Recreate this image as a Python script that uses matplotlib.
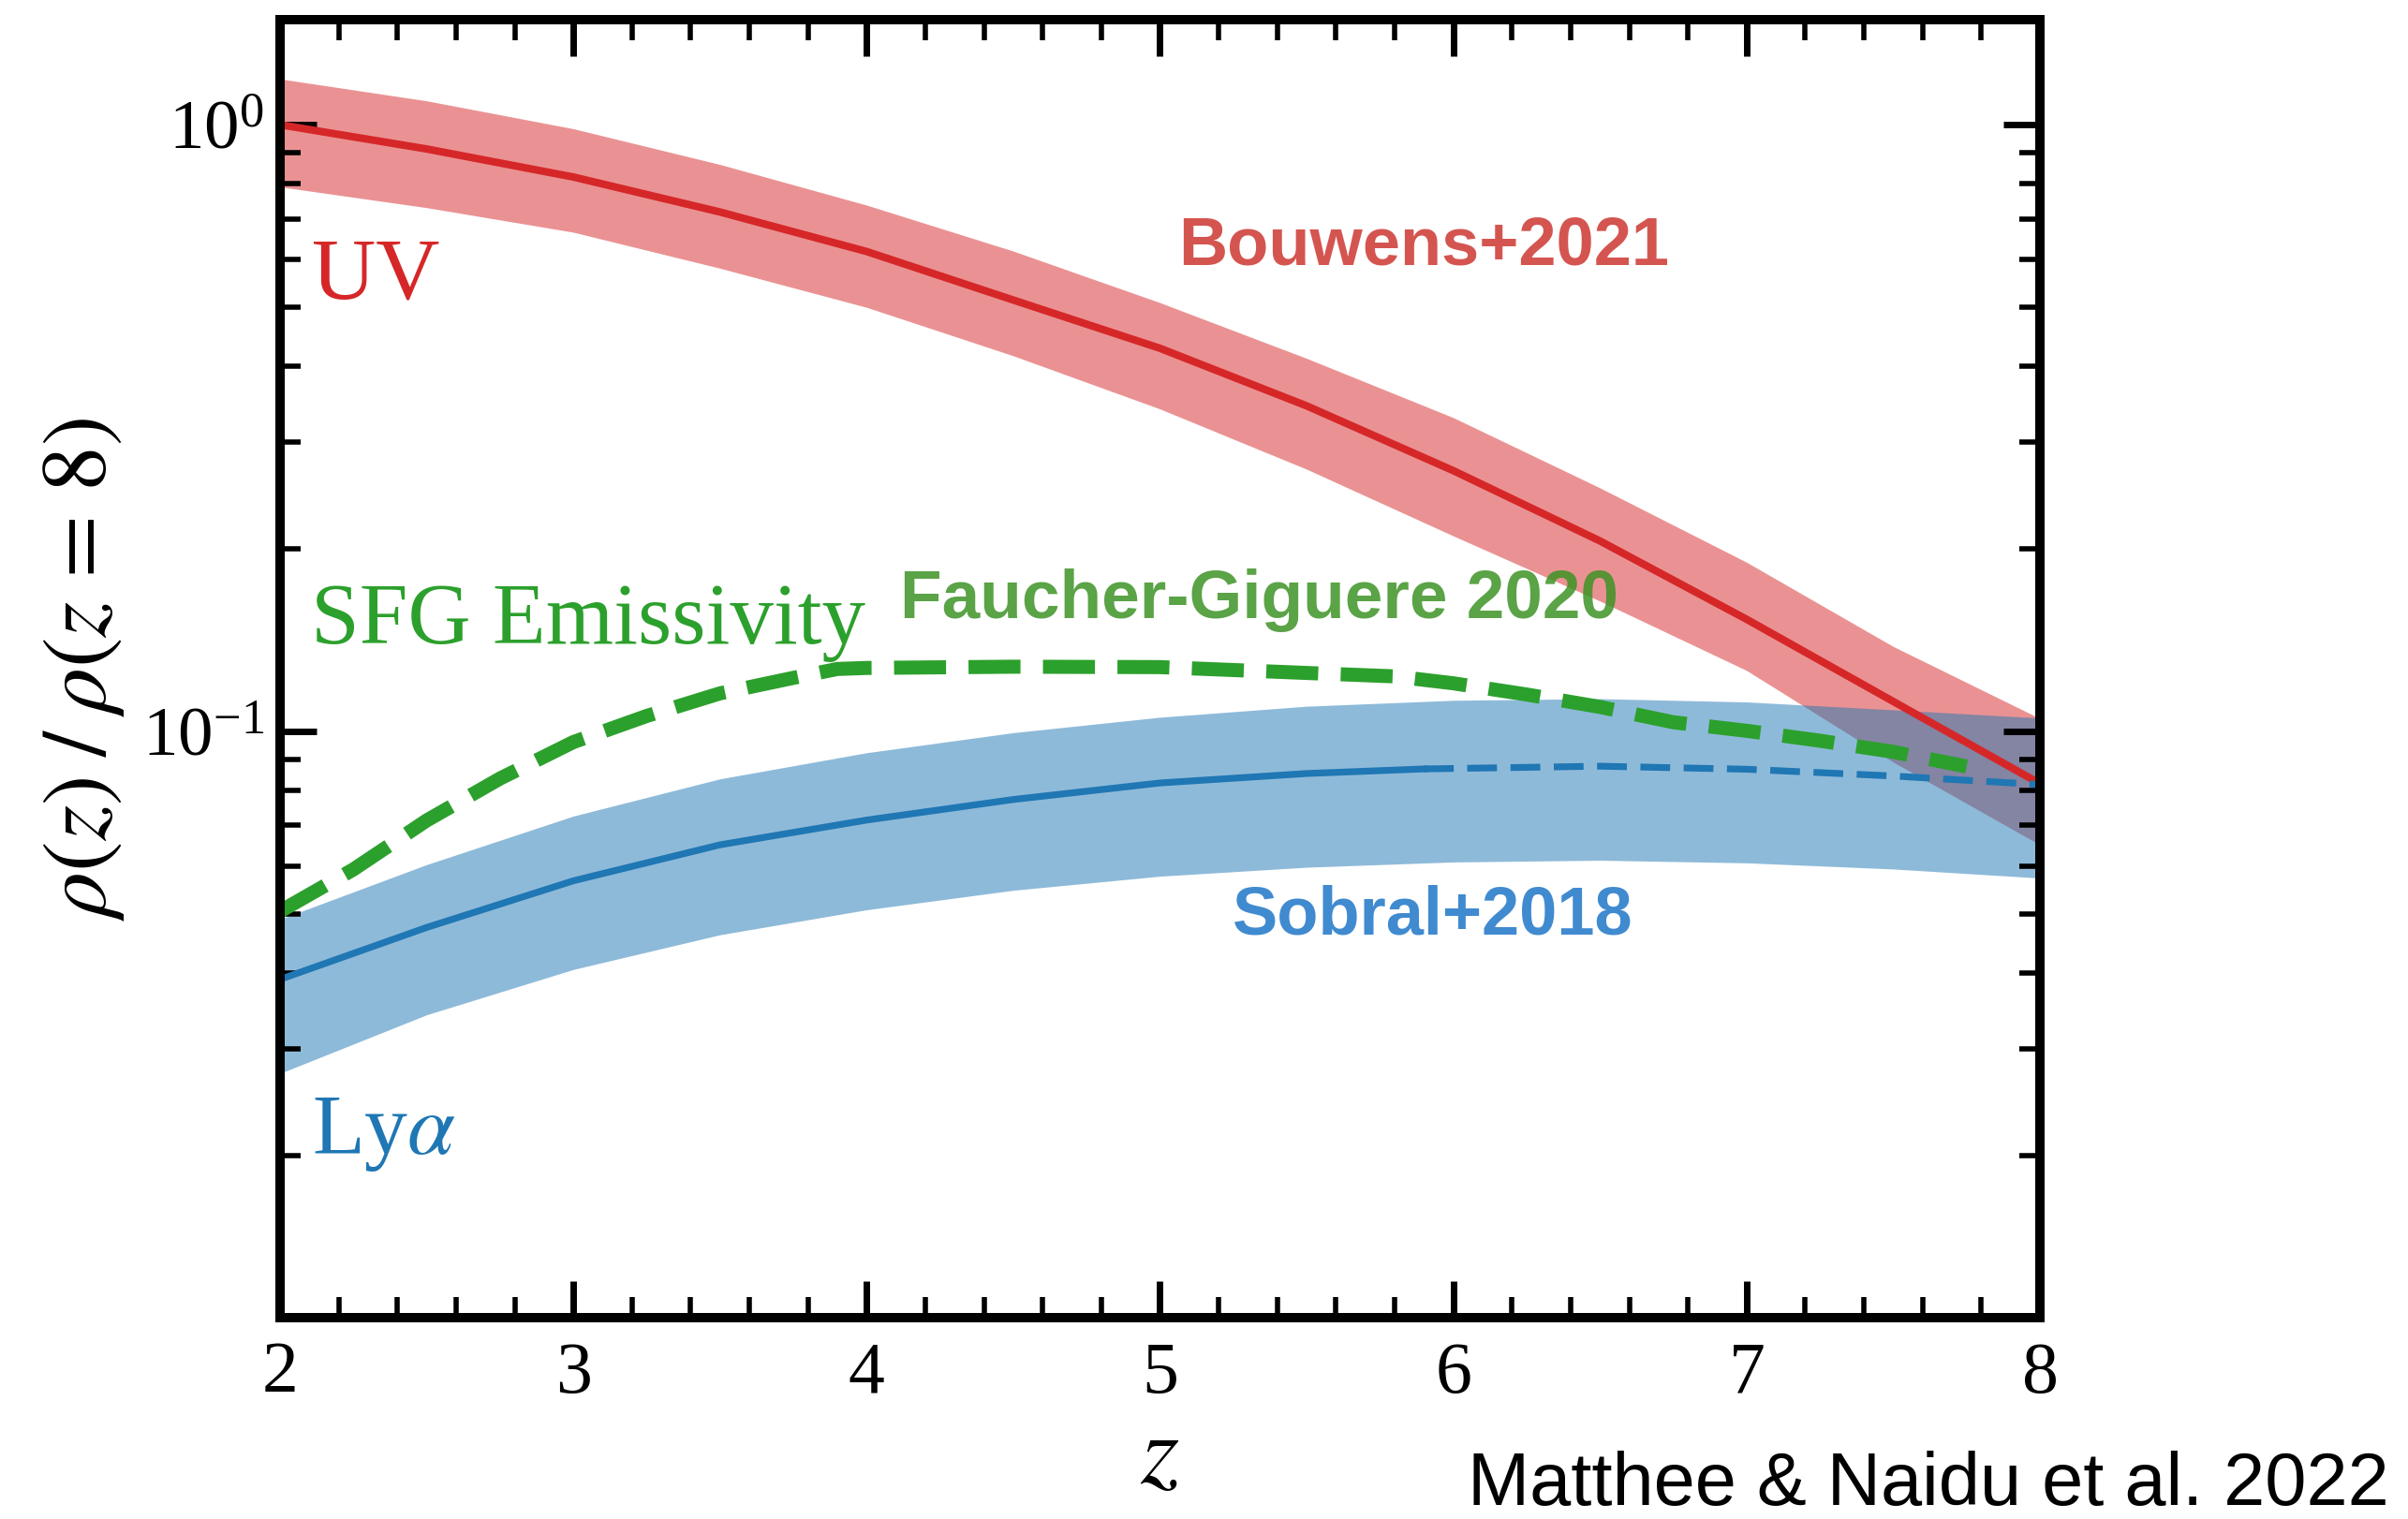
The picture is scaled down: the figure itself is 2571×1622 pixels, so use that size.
import numpy as np
import matplotlib
matplotlib.use("Agg")
import matplotlib.pyplot as plt
from matplotlib.ticker import LogLocator, NullFormatter, MultipleLocator

# UV luminosity density, Bouwens+2021 (normalised at z=8)
z_uv = [2.0, 2.5, 3.0, 3.5, 4.0, 4.5, 5.0, 5.5, 6.0, 6.5, 7.0, 7.5, 8.0]
uv_mid = [1.0, 0.912, 0.82, 0.718, 0.618, 0.514, 0.428, 0.344, 0.269, 0.206, 0.153, 0.112, 0.082]
uv_hi = [1.19, 1.095, 0.985, 0.86, 0.737, 0.619, 0.509, 0.412, 0.329, 0.252, 0.190, 0.138, 0.105]
uv_lo = [0.79, 0.73, 0.665, 0.58, 0.50, 0.416, 0.340, 0.2705, 0.21, 0.164, 0.126, 0.089, 0.065]

# Lya luminosity density, Sobral+2018
z_lya = [2.0, 2.5, 3.0, 3.5, 4.0, 4.5, 5.0, 5.5, 6.0, 6.5, 7.0, 7.5, 8.0]
lya_hi = [0.049, 0.0603, 0.0725, 0.0835, 0.0922, 0.0995, 0.1055, 0.110, 0.1125, 0.1132, 0.1118, 0.1085, 0.1052]
lya_lo = [0.0273, 0.0341, 0.0405, 0.0462, 0.0508, 0.0547, 0.0577, 0.0597, 0.0609, 0.0613, 0.0607, 0.0593, 0.0573]
z_lya_obs = [2.0, 2.5, 3.0, 3.5, 4.0, 4.5, 5.0, 5.5, 5.9]
lya_obs = [0.039, 0.0475, 0.0567, 0.0650, 0.0714, 0.0772, 0.0822, 0.0852, 0.0867]
z_lya_ext = [5.9, 6.5, 7.0, 7.5, 8.0]
lya_ext = [0.0867, 0.0876, 0.0866, 0.0844, 0.0817]

# SFG ionising emissivity, Faucher-Giguere 2020
z_sfg = [2.0, 2.25, 2.5, 2.75, 3.0, 3.25, 3.5, 3.75, 3.9, 4.0, 4.5, 5.0,
         5.5, 5.8, 6.0, 6.25, 6.5, 6.75, 7.0, 7.25, 7.5, 7.75]
sfg = [0.0505, 0.0592, 0.0713, 0.0836, 0.096, 0.106, 0.1155, 0.1225, 0.1267, 0.1272, 0.1278, 0.1276,
       0.1248, 0.1232, 0.120, 0.115, 0.1097, 0.1035, 0.1002, 0.0965, 0.0925, 0.0875]


def main():
    plt.rcParams['font.family'] = ['Liberation Serif', 'DejaVu Serif']
    plt.rcParams['mathtext.fontset'] = 'stix'

    fig = plt.figure(figsize=(2571 / 200, 1622 / 200), dpi=200)
    ax = fig.add_axes([299 / 2571, 1 - 1407 / 1622, (2178 - 299) / 2571, (1407 - 21) / 1622])

    ax.fill_between(z_uv, uv_lo, uv_hi, color='tab:red', alpha=0.5, lw=0, zorder=1)
    ax.fill_between(z_lya, lya_lo, lya_hi, color='tab:blue', alpha=0.5, lw=0, zorder=1.1)

    ax.plot(z_sfg, sfg, color='tab:green', lw=5.4, ls='--', zorder=2)
    ax.plot(z_uv, uv_mid, color='tab:red', lw=2.9, zorder=2.1)
    ax.plot(z_lya_obs, lya_obs, color='tab:blue', lw=2.6, zorder=2.2)
    ax.plot(z_lya_ext, lya_ext, color='tab:blue', lw=2.6, dashes=(4.4, 2.0), zorder=2.2)

    ax.set_yscale('log')
    ax.set_xlim(2, 8)
    ax.set_ylim(0.0108, 1.49)

    ax.xaxis.set_major_locator(MultipleLocator(1))
    ax.xaxis.set_minor_locator(MultipleLocator(0.2))
    ax.yaxis.set_minor_locator(LogLocator(base=10, subs=np.arange(2, 10)))
    ax.yaxis.set_minor_formatter(NullFormatter())

    ax.tick_params(which='both', direction='in', top=True, right=True)
    ax.tick_params(which='major', length=14, width=2.5)
    ax.tick_params(which='minor', length=8, width=2)
    ax.tick_params(axis='x', which='major', labelsize=28, pad=9)
    ax.tick_params(axis='y', which='major', labelsize=27, pad=6)
    for sp in ax.spines.values():
        sp.set_linewidth(3.6)

    ax.set_xlabel(r'$z$', fontsize=38, labelpad=2)
    ax.set_ylabel(r'$\rho(z)\;/\;\rho(z\,=\,8)$', fontsize=35, labelpad=6)

    # labels inside the panel
    ax.text(2.11, 0.518, 'UV', color='tab:red', fontsize=34)
    ax.text(2.105, 0.1396, 'SFG Emissivity', color='tab:green', fontsize=33.5)
    ax.text(2.11, 0.0201, r'Ly$\alpha$', color='tab:blue', fontsize=33)

    sans = ['Liberation Sans', 'DejaVu Sans']
    ax.text(5.062, 0.589, 'Bouwens+2021', color='#d45550', fontsize=26,
            fontweight='bold', family=sans)
    ax.text(4.115, 0.1537, 'Faucher-Giguere 2020', color='#3d9325', alpha=0.85,
            fontsize=26.3, fontweight='bold', family=sans)
    ax.text(5.247, 0.0463, 'Sobral+2018', color='#408ad0', fontsize=26,
            fontweight='bold', family=sans)

    fig.text(0.992, 0.0092, 'Matthee & Naidu et al. 2022', ha='right', va='baseline',
             fontsize=28.6, family=sans)

    fig.savefig('out.png', dpi=200)


if __name__ == "__main__":
    main()
